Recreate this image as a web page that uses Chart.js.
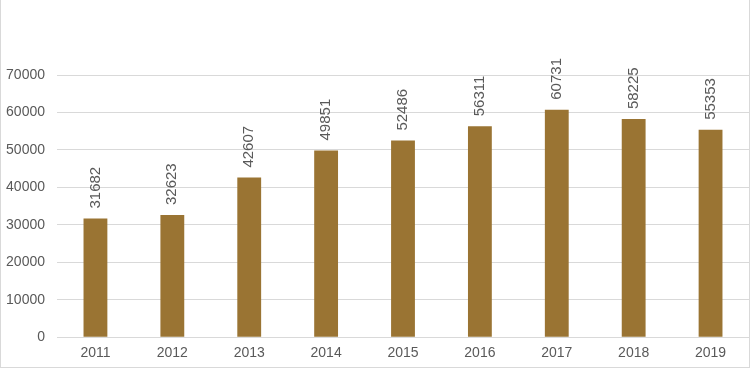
<!DOCTYPE html>
<html>
<head>
<meta charset="utf-8">
<script src="https://cdn.jsdelivr.net/npm/chart.js@4"></script>
<style>
  html, body { margin: 0; padding: 0; background: #fff; }
  #wrap { position: relative; width: 750px; height: 368px; box-sizing: border-box;
          border-left: 1px solid #d9d9d9; border-bottom: 1px solid #d9d9d9; border-right: 1px solid #d9d9d9; }
</style>
</head>
<body>
<div id="wrap"><canvas id="myChart"></canvas></div>
<script>
const years = ['2011', '2012', '2013', '2014', '2015', '2016', '2017', '2018', '2019']
const values = [31682, 32623, 42607, 49851, 52486, 56311, 60731, 58225, 55353]

const barColor = '#9a7433'
const textColor = '#595959'
const fontFamily = '"Liberation Sans", Arial, sans-serif'

// draws the value above each bar, rotated
const valueLabels = {
  id: 'valueLabels',
  afterDatasetsDraw(chart) {
    const c = chart.ctx
    const meta = chart.getDatasetMeta(0)
    c.save()
    c.font = '15px ' + fontFamily
    c.fillStyle = textColor
    c.textAlign = 'left'
    c.textBaseline = 'middle'
    meta.data.forEach((bar, i) => {
      c.save()
      c.translate(bar.x, bar.y - 10)
      c.rotate(-Math.PI / 2)
      c.fillText(String(values[i]), 0, 0)
      c.restore()
    })
    c.restore()
  }
}

const ctx = document.getElementById('myChart')

new Chart(ctx, {
  type: 'bar',
  data: {
    labels: years,
    datasets: [{
      data: values,
      backgroundColor: barColor,
      categoryPercentage: 1,
      barPercentage: 0.31
    }]
  },
  options: {
    responsive: true,
    maintainAspectRatio: false,
    animation: false,
    layout: { padding: { top: 75, right: 0, bottom: -3, left: 1 } },
    plugins: {
      legend: { display: false },
      tooltip: { enabled: false }
    },
    scales: {
      x: {
        grid: { display: false, drawTicks: false },
        border: { color: '#d9d9d9' },
        ticks: {
          color: textColor,
          padding: 8,
          font: { size: 14, family: fontFamily }
        }
      },
      y: {
        min: 0,
        max: 70000,
        afterFit(scale) { scale.width = 55 },
        border: { display: false },
        grid: { color: '#d9d9d9', drawTicks: false },
        ticks: {
          stepSize: 10000,
          color: textColor,
          padding: 12,
          callback: v => String(v),
          font: { size: 14, family: fontFamily }
        }
      }
    }
  },
  plugins: [valueLabels]
})
</script>
</body>
</html>
